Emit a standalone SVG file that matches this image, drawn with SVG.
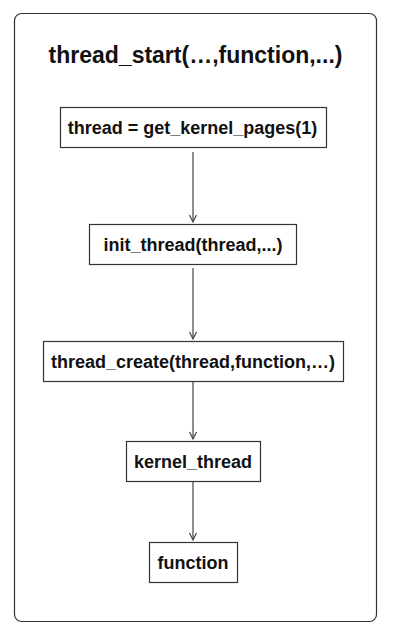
<svg xmlns="http://www.w3.org/2000/svg" width="400" height="640" viewBox="0 0 400 640">
<style>
.box{fill:#fff;stroke:#333;stroke-width:1.2}
.t{font-family:"Liberation Sans",Arial,sans-serif;font-weight:bold;font-size:18px;fill:#111;text-anchor:middle}
.c{stroke:#444;stroke-width:1.2;fill:none}
</style>
<defs>
<marker id="ah" markerWidth="10" markerHeight="10" refX="8" refY="5" orient="auto" markerUnits="userSpaceOnUse">
<path d="M1,1.5 L8,5 L1,8.5" fill="none" stroke="#444" stroke-width="1.2"/>
</marker>
</defs>
<rect x="14.5" y="13.5" width="362" height="608" rx="7" fill="#fff" stroke="#333" stroke-width="1.2"/>
<text x="195.5" y="63" class="t" style="font-size:23px">thread_start(…,function,...)</text>
<g id="connectors">
<line class="c" x1="193" y1="152" x2="193" y2="222" marker-end="url(#ah)"/>
<line class="c" x1="193" y1="268" x2="193" y2="339" marker-end="url(#ah)"/>
<line class="c" x1="193" y1="381" x2="193" y2="439" marker-end="url(#ah)"/>
<line class="c" x1="193" y1="482" x2="193" y2="540" marker-end="url(#ah)"/>
</g>
<g id="n1"><rect class="box" x="60.5" y="107.5" width="266" height="40"/><text class="t" x="192.5" y="134">thread = get_kernel_pages(1)</text></g>
<g id="n2"><rect class="box" x="89.5" y="224.5" width="207" height="40"/><text class="t" x="193" y="251">init_thread(thread,...)</text></g>
<g id="n3"><rect class="box" x="43.5" y="341.5" width="300" height="40"/><text class="t" x="193" y="368">thread_create(thread,function,…)</text></g>
<g id="n4"><rect class="box" x="126.5" y="441.5" width="134" height="40"/><text class="t" x="193" y="468">kernel_thread</text></g>
<g id="n5"><rect class="box" x="149.5" y="542.5" width="88" height="40"/><text class="t" x="193" y="569">function</text></g>
</svg>
